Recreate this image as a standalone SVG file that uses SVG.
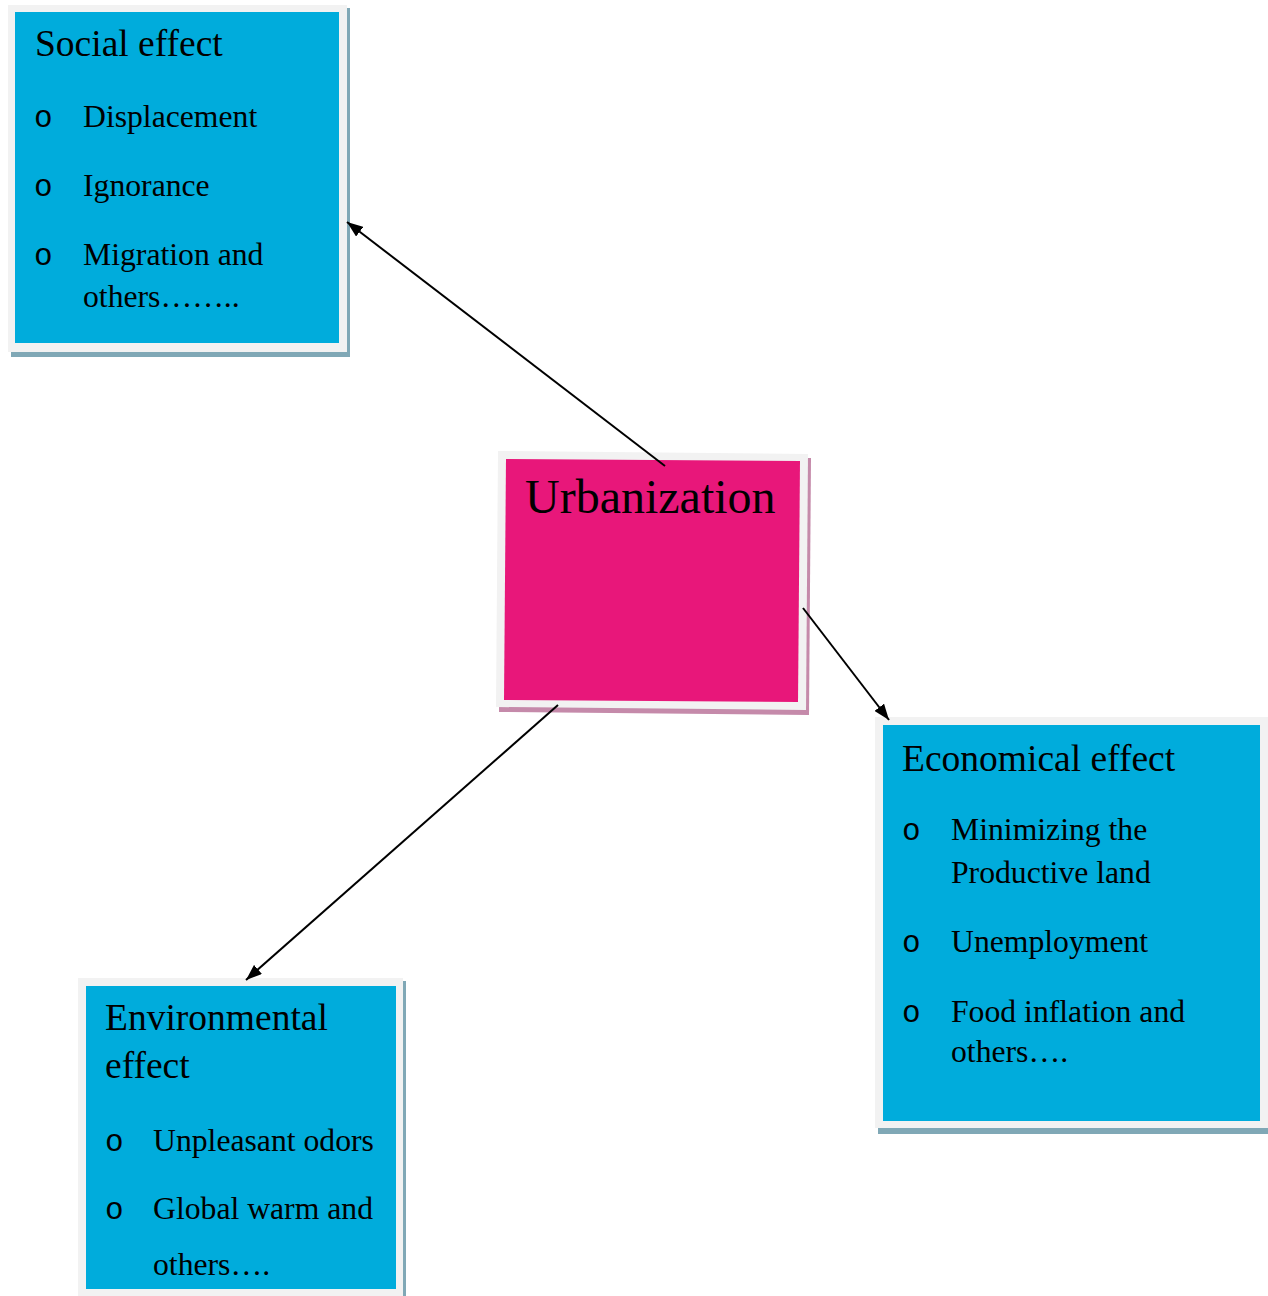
<svg xmlns="http://www.w3.org/2000/svg" width="1268" height="1296" viewBox="0 0 1268 1296">
<defs>
<style>
.frame{fill:#f2f2f2}
.shadow{fill:#80a8b6}
.pshadow{fill:#c58aaa}
.blue{fill:#00acdc}
.pink{fill:#e8177a}
.title{font-family:"Liberation Serif","Times New Roman",serif;font-size:37.5px;fill:#000}
.item{font-family:"Liberation Serif","Times New Roman",serif;font-size:31.7px;fill:#000}
.bul{font-family:"Liberation Mono","Courier New",monospace;font-size:31px;fill:#000}
.big{font-family:"Liberation Serif","Times New Roman",serif;font-size:48px;fill:#000}
.conn{stroke:#000;stroke-width:2;fill:none}
</style>
<marker id="arr" viewBox="0 0 16 12" refX="16" refY="6" markerWidth="16" markerHeight="12" markerUnits="userSpaceOnUse" orient="auto">
<path d="M0,0 L16,6 L0,12 z" fill="#000"/>
</marker>
</defs>
<rect width="1268" height="1296" fill="#fff"/>

<g id="social">
<rect class="shadow" x="11" y="8" width="339" height="349"/>
<rect class="frame" x="8" y="5" width="339" height="347"/>
<rect class="blue" x="15" y="12" width="324" height="331"/>
<text class="title" x="35" y="56">Social effect</text>
<text class="bul" x="34" y="127">o</text>
<text class="item" x="83" y="127">Displacement</text>
<text class="bul" x="34" y="196">o</text>
<text class="item" x="83" y="196">Ignorance</text>
<text class="bul" x="34" y="265">o</text>
<text class="item" x="83" y="265">Migration and</text>
<text class="item" x="83" y="307">others……..</text>
</g>

<g id="urbanization">
<polygon class="pshadow" points="501,455 811,458 809,715 499,712"/>
<polygon class="frame" points="498,451 808,454 806,710 496,707"/>
<polygon class="pink" points="506,459 800,461 798,702 504,700"/>
<text class="big" x="525" y="513">Urbanization</text>
</g>

<g id="economical">
<rect class="shadow" x="878" y="720" width="390" height="414"/>
<rect class="frame" x="875" y="717" width="393" height="411"/>
<rect class="blue" x="883" y="725" width="377" height="396"/>
<text class="title" x="902" y="771">Economical effect</text>
<text class="bul" x="902" y="840">o</text>
<text class="item" x="951" y="840">Minimizing the</text>
<text class="item" x="951" y="883">Productive land</text>
<text class="bul" x="902" y="952">o</text>
<text class="item" x="951" y="952">Unemployment</text>
<text class="bul" x="902" y="1022">o</text>
<text class="item" x="951" y="1022">Food inflation and</text>
<text class="item" x="951" y="1062">others….</text>
</g>

<g id="environmental">
<rect class="shadow" x="81" y="981" width="325" height="318"/>
<rect class="frame" x="78" y="978" width="325" height="320"/>
<rect class="blue" x="86" y="986" width="310" height="303"/>
<text class="title" x="105" y="1030">Environmental</text>
<text class="title" x="105" y="1078">effect</text>
<text class="bul" x="105" y="1151">o</text>
<text class="item" x="153" y="1151">Unpleasant odors</text>
<text class="bul" x="105" y="1219">o</text>
<text class="item" x="153" y="1219">Global warm and</text>
<text class="item" x="153" y="1275">others….</text>
</g>

<g id="connectors">
<line class="conn" x1="665" y1="466" x2="347" y2="222" marker-end="url(#arr)"/>
<line class="conn" x1="803" y1="608" x2="889" y2="720" marker-end="url(#arr)"/>
<line class="conn" x1="558" y1="705" x2="246" y2="980" marker-end="url(#arr)"/>
</g>
</svg>
